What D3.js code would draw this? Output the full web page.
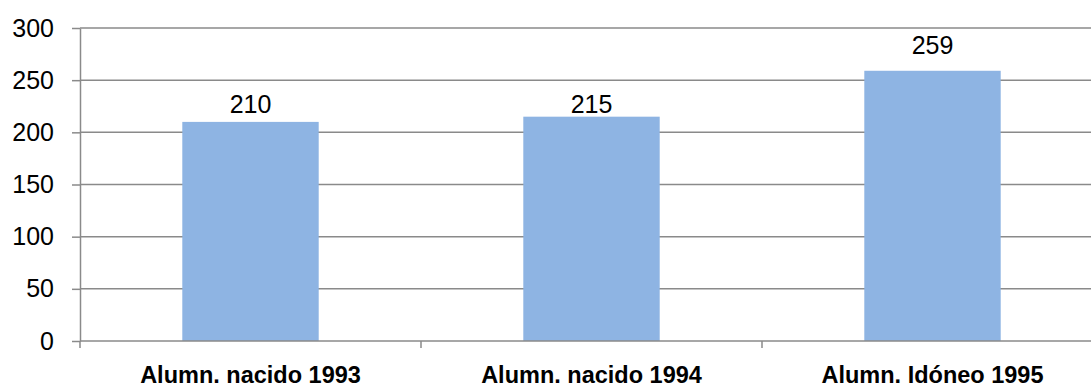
<!DOCTYPE html>
<html><head><meta charset="utf-8">
<script src="https://cdn.jsdelivr.net/npm/d3@7"></script>
<style>body{margin:0;background:#fff}svg{display:block}text{font-family:"Liberation Sans",Arial,sans-serif}</style>
</head><body>
<svg id="c" width="1091" height="387"></svg>
<script>
const categories = ["Alumn. nacido 1993", "Alumn. nacido 1994", "Alumn. Idóneo 1995"];
const values = [210, 215, 259];
const yTicks = [0, 50, 100, 150, 200, 250, 300];

// presentation: gap between bar top and label baseline (px)
const labelGap = [9, 4, 17];

const svg = d3.select("#c");
const mLeft = 80, mRight = 1103, mTop = 28, mBottom = 341;
const x = d3.scaleBand().domain(categories).range([mLeft, mRight]).paddingInner(0.6).paddingOuter(0.3);
const xb = d3.scaleBand().domain(categories).range([mLeft, mRight]);
const y = d3.scaleLinear().domain([0, 300]).range([mBottom, mTop]);

// gridlines
svg.append("g").selectAll("line").data(yTicks.filter(d => d > 0)).join("line")
  .attr("x1", mLeft).attr("x2", mRight).attr("y1", d => y(d)).attr("y2", d => y(d))
  .attr("stroke", "#8a8a8a").attr("stroke-width", 1.5);

// bars
svg.append("g").selectAll("rect").data(values).join("rect")
  .attr("x", (d, i) => x(categories[i])).attr("width", x.bandwidth())
  .attr("y", d => y(d)).attr("height", d => y(0) - y(d))
  .attr("fill", "#8eb4e3");

// value labels
svg.append("g").selectAll("text").data(values).join("text")
  .attr("x", (d, i) => x(categories[i]) + x.bandwidth() / 2)
  .attr("y", (d, i) => y(d) - labelGap[i]).attr("text-anchor", "middle")
  .attr("font-size", 25).attr("fill", "#000").text(d => d);

// y axis
const yAxis = svg.append("g").attr("transform", `translate(${mLeft},0)`)
  .call(d3.axisLeft(y).tickValues(yTicks).tickSize(8).tickPadding(18).tickSizeOuter(0));
yAxis.select(".domain").attr("stroke", "#8a8a8a").attr("stroke-width", 1.5);
yAxis.selectAll(".tick line").attr("stroke", "#8a8a8a").attr("stroke-width", 1.5);
yAxis.selectAll(".tick text").attr("font-size", 25).attr("fill", "#000")
  .attr("font-family", '"Liberation Sans",Arial,sans-serif');

// x axis
const xAxisG = svg.append("g").attr("transform", `translate(0,${mBottom})`);
xAxisG.append("line").attr("x1", mLeft).attr("x2", mRight).attr("stroke", "#8a8a8a").attr("stroke-width", 1.5);
const bounds = categories.map(c => xb(c)).concat([xb(categories[categories.length - 1]) + xb.bandwidth()]);
xAxisG.selectAll(".sep").data(bounds).join("line").attr("class", "sep")
  .attr("x1", d => d).attr("x2", d => d).attr("y1", 0).attr("y2", 7)
  .attr("stroke", "#8a8a8a").attr("stroke-width", 1.5);
xAxisG.selectAll("text").data(categories).join("text")
  .attr("x", d => xb(d) + xb.bandwidth() / 2).attr("y", 42)
  .attr("text-anchor", "middle").attr("font-size", 23.5).attr("font-weight", "bold")
  .attr("fill", "#000").text(d => d);
</script>
</body></html>
